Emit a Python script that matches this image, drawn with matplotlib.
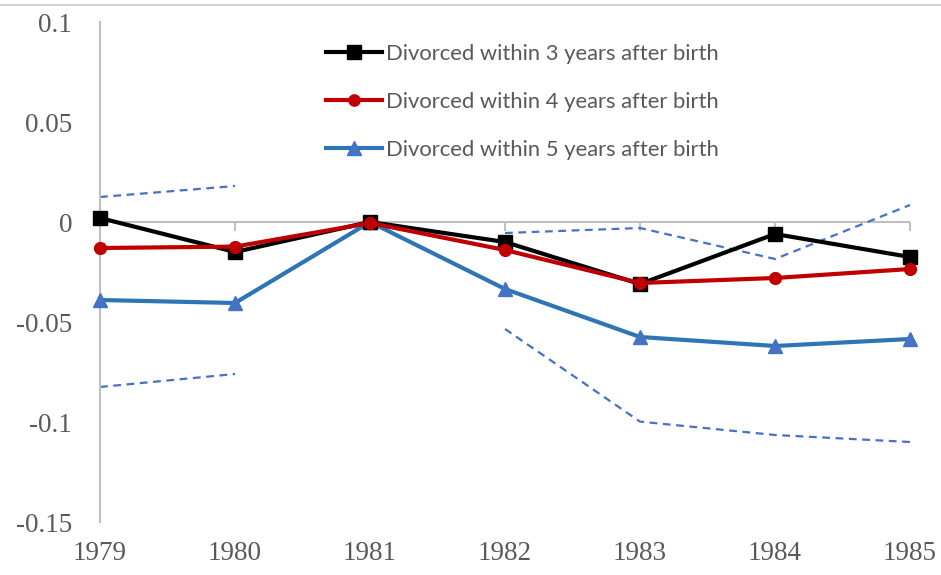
import numpy as np
import matplotlib
matplotlib.use("Agg")
import matplotlib.pyplot as plt
from matplotlib.lines import Line2D

years = [1979, 1980, 1981, 1982, 1983, 1984, 1985]
div3 = [0.002, -0.015, 0.0, -0.010, -0.031, -0.006, -0.0175]
div4 = [-0.013, -0.0123, -0.0005, -0.014, -0.0305, -0.028, -0.0235]
div5 = [-0.039, -0.0405, 0.0, -0.0335, -0.0575, -0.062, -0.0585]
ci_upper = [0.0125, 0.018, np.nan, -0.0055, -0.003, -0.0185, 0.0085]
ci_lower = [-0.0825, -0.076, np.nan, -0.0535, -0.0998, -0.1065, -0.110]
labels = ["Divorced within 3 years after birth",
          "Divorced within 4 years after birth",
          "Divorced within 5 years after birth"]
yticks = [0.1, 0.05, 0, -0.05, -0.1, -0.15]
ytick_labels = ["0.1", "0.05", "0", "-0.05", "-0.1", "-0.15"]

W, H = 941, 575
fig = plt.figure(figsize=(W / 100, H / 100), dpi=100)
ax = fig.add_axes([100 / W, (H - 522) / H, 810 / W, 500 / H])

grey = "#bfbfbf"
txt = "#595959"
blue_line = "#2E75B6"
blue_mark = "#4472C4"

ax.axhline(0, color=grey, lw=1.5, zorder=1)

ax.plot(years, ci_upper, color=blue_mark, lw=1.6, ls=(0, (3.5, 2.5)), clip_on=False, zorder=2)
ax.plot(years, ci_lower, color=blue_mark, lw=1.6, ls=(0, (3.5, 2.5)), clip_on=False, zorder=2)

l3, = ax.plot(years, div3, color="black", lw=3, marker="s", ms=10, clip_on=False, zorder=4)
l4, = ax.plot(years, div4, color="#C00000", lw=3, marker="o", ms=8.5, clip_on=False, zorder=5)
l5, = ax.plot(years, div5, color=blue_line, lw=3, marker="^", ms=10.5,
              mfc=blue_mark, mec=blue_mark, clip_on=False, zorder=3)

ax.set_xlim(1979, 1985)
ax.set_ylim(-0.15, 0.1)

for s in ["top", "right", "bottom"]:
    ax.spines[s].set_visible(False)
ax.spines["left"].set_color(grey)
ax.spines["left"].set_linewidth(1.5)

ax.set_yticks(yticks)
ax.set_yticklabels(ytick_labels)
ax.tick_params(axis="y", length=0, pad=20, labelsize=19.5, labelcolor=txt)
for t in ax.get_yticklabels():
    t.set_family("Liberation Serif")

ax.set_xticks(years)
ax.set_xticklabels([str(y) for y in years])
ax.tick_params(axis="x", length=0, pad=14, labelsize=19.5, labelcolor=txt)
for t in ax.get_xticklabels():
    t.set_family("Liberation Serif")

# tick marks on the zero axis line
sec = ax.secondary_xaxis(0.6)
sec.set_xticks(years)
sec.set_xticklabels([])
sec.tick_params(axis="x", direction="in", length=6.5, width=1.5, color=grey)
for s in sec.spines.values():
    s.set_visible(False)

leg = ax.legend([l3, l4, l5], labels, loc="upper left",
                bbox_to_anchor=(326 / W, 1 - 44 / H), bbox_transform=fig.transFigure,
                frameon=False, borderpad=0, borderaxespad=0,
                handlelength=2.55, handletextpad=0.2, labelspacing=1.28,
                prop={"family": "Lato", "size": 15.8}, markerscale=0.95)
for t in leg.get_texts():
    t.set_color(txt)

fig.add_artist(Line2D([0, 1], [1 - 5 / H, 1 - 5 / H], transform=fig.transFigure,
                      color="#cccccc", lw=1.2))

fig.savefig("out.png", dpi=100)
